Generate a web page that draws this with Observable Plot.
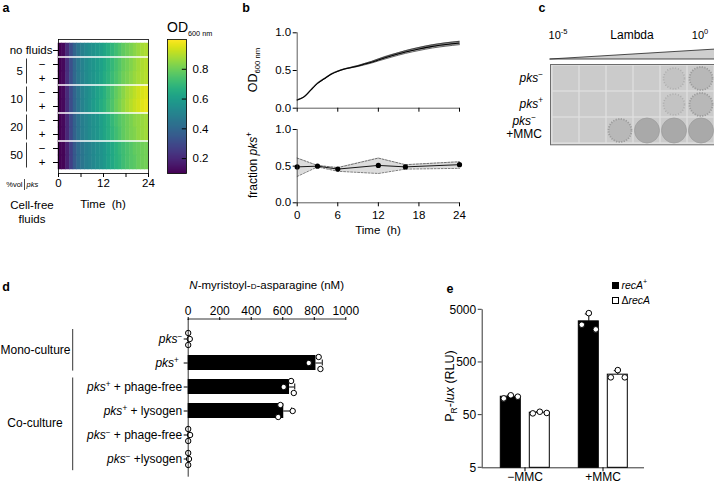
<!DOCTYPE html>
<html><head><meta charset="utf-8">
<script src="https://cdn.jsdelivr.net/npm/d3@7"></script>
<script src="https://cdn.jsdelivr.net/npm/@observablehq/plot@0.6"></script>
<style>
html,body{margin:0;padding:0;background:#fff;}
#fig{position:relative;width:714px;height:488px;overflow:hidden;background:#fff;font-family:"Liberation Sans",Arial,Helvetica,sans-serif;color:#000;}
.t{position:absolute;white-space:nowrap;line-height:1;}
.t sup,.t sub{font-size:68%;line-height:0;}
</style></head>
<body><div id="fig"></div>
<script>
// ================= DATA =================
// a: OD600 heatmap (hourly values, 0-24 h)
const heatRows = ["no fluids","5 −","5 +","10 −","10 +","20 −","20 +","50 −","50 +"];
const heatGroups = ["5","10","20","50"];
const heatHours = [0,1,2,3,4,5,6,7,8,9,10,11,12,13,14,15,16,17,18,19,20,21,22,23];
const odNoFluids = [0.10,0.12,0.21,0.31,0.39,0.45,0.49,0.52,0.54,0.56,0.58,0.60,0.63,0.66,0.69,0.72,0.75,0.78,0.80,0.82,0.84,0.86,0.88,0.89];
const od5Minus   = [0.10,0.12,0.22,0.32,0.40,0.46,0.50,0.53,0.55,0.57,0.59,0.61,0.64,0.67,0.70,0.73,0.76,0.79,0.81,0.83,0.85,0.87,0.89,0.90];
const od5Plus    = [0.10,0.12,0.22,0.32,0.40,0.46,0.50,0.53,0.55,0.57,0.59,0.62,0.65,0.68,0.71,0.74,0.77,0.80,0.82,0.84,0.86,0.88,0.89,0.90];
const od10Minus  = [0.10,0.12,0.21,0.31,0.39,0.45,0.50,0.53,0.55,0.58,0.61,0.64,0.67,0.71,0.74,0.78,0.81,0.84,0.87,0.89,0.91,0.93,0.95,0.96];
const od10Plus   = [0.10,0.12,0.21,0.31,0.39,0.45,0.50,0.53,0.56,0.59,0.62,0.65,0.68,0.72,0.75,0.79,0.82,0.85,0.88,0.90,0.92,0.94,0.96,0.97];
const od20Minus  = [0.10,0.12,0.20,0.30,0.38,0.44,0.48,0.51,0.53,0.55,0.57,0.60,0.63,0.66,0.70,0.73,0.76,0.78,0.80,0.82,0.84,0.85,0.86,0.87];
const od20Plus   = [0.10,0.12,0.20,0.30,0.38,0.44,0.48,0.51,0.53,0.55,0.57,0.60,0.63,0.66,0.69,0.72,0.75,0.78,0.80,0.82,0.83,0.85,0.86,0.87];
const od50Minus  = [0.10,0.11,0.18,0.27,0.35,0.41,0.45,0.48,0.50,0.52,0.54,0.56,0.58,0.61,0.64,0.67,0.70,0.72,0.74,0.76,0.78,0.79,0.80,0.81];
const od50Plus   = [0.10,0.11,0.18,0.27,0.35,0.41,0.45,0.48,0.50,0.52,0.54,0.56,0.58,0.61,0.64,0.67,0.69,0.72,0.74,0.76,0.77,0.79,0.80,0.81];
const heatOD = [odNoFluids,od5Minus,od5Plus,od10Minus,od10Plus,od20Minus,od20Plus,od50Minus,od50Plus];
const odDomain = [0.1, 1.0];
const cbarTicks = [0.2,0.4,0.6,0.8];

// b: growth curve and fraction pks+
const growthHours = [0,1,2,3,4,5,6,7,8,9,10,11,12,14,16,18,20,22,24];
const growthMean  = [0.11,0.15,0.24,0.33,0.39,0.45,0.49,0.52,0.54,0.56,0.585,0.61,0.64,0.695,0.745,0.785,0.82,0.845,0.865];
const growthSD    = [0.003,0.003,0.003,0.003,0.003,0.003,0.003,0.003,0.004,0.006,0.009,0.011,0.013,0.016,0.018,0.02,0.021,0.022,0.022];
const fracHours = [0,3,6,12,16,24];
const fracMean  = [0.49,0.50,0.46,0.51,0.49,0.52];
const fracLow   = [0.36,0.49,0.43,0.40,0.46,0.47];
const fracHigh  = [0.61,0.51,0.48,0.61,0.52,0.56];
const timeTicks = [0,6,12,18,24];

// c: lambda plaque assay (0 none, 1 sparse plaques, 2 turbid, 3 clear lysis)
const lambdaExp = [-5,-4,-3,-2,-1,0];
const plaqueRows = ["pks−","pks+","pks− +MMC"];
const lysisPksMinus    = [0,0,0,0,1,2];
const lysisPksPlus     = [0,0,0,0,1,2];
const lysisPksMinusMMC = [0,0,2,3,3,3];
const plaqueLysis = [lysisPksMinus, lysisPksPlus, lysisPksMinusMMC];
const wedgeExp = [-5, 0];
const wedgeRel = [0, 1];

// d: N-myristoyl-D-asparagine (nM)
const nmdaStrain  = ["−","+","+","+","−","−"];
const nmdaPartner = [""," "," + phage-free"," + lysogen"," + phage-free"," +lysogen"];
const nmdaRep1 = [0, 828, 653, 585, 0, 0];
const nmdaRep2 = [10, 765, 606, 663, 12, 5];
const nmdaRep3 = [0, 839, 670, 571, 0, 0];
const nmdaTicks = [0,200,400,600,800,1000];

// e: PR-lux (RLU)
const rluConditions = ["−MMC","+MMC"];
const rluStrains = ["recA+","ΔrecA"];
const rluCondition = ["−MMC","−MMC","+MMC","+MMC"];
const rluStrain    = ["recA+","ΔrecA","recA+","ΔrecA"];
const rluRep1 = [104, 54, 2606, 261];
const rluRep2 = [119, 58, 4320, 358];
const rluRep3 = [112, 55, 2123, 261];
const rluTicks = [5,50,500,5000];

// ================= HELPERS =================
const FONT = '"Liberation Sans", Arial, Helvetica, sans-serif';
const fig = document.getElementById("fig");
const st = (size) => ({fontFamily: FONT, fontSize: size + "px", background: "transparent", overflow: "visible", color: "#000", maxWidth: "none"});
function place(svg, left, top) {
  const d = document.createElement("div");
  d.style.cssText = `position:absolute;left:${left}px;top:${top}px;`;
  d.appendChild(svg); fig.appendChild(d); return svg;
}
function text(html, x, y, o = {}) {
  const {anchor = "middle", size = 11, rotate = 0, weight = 400, lh = 1, align = null} = o;
  const d = document.createElement("div");
  d.className = "t";
  d.innerHTML = html;
  const tx = anchor === "start" ? "0" : anchor === "end" ? "-100%" : "-50%";
  d.style.left = x + "px"; d.style.top = y + "px";
  d.style.fontSize = size + "px"; d.style.fontWeight = weight; d.style.lineHeight = lh;
  if (align) d.style.textAlign = align;
  d.style.transform = `translate(${tx},-50%)` + (rotate ? ` rotate(${rotate}deg)` : "");
  fig.appendChild(d); return d;
}
function line(svg, x1, y1, x2, y2, stroke = "#000", w = 0.8) {
  d3.select(svg).append("line").attr("x1", x1).attr("y1", y1).attr("x2", x2).attr("y2", y2)
    .attr("stroke", stroke).attr("stroke-width", w);
}

// ================= PANEL A =================
const heatData = [];
heatRows.forEach((row, i) => heatOD[i].forEach((od, j) => heatData.push({row, t0: heatHours[j], t1: heatHours[j] + 1, od})));
const odColor = {type: "linear", scheme: "viridis", domain: odDomain};
const heat = Plot.plot({
  width: 200, height: 230, marginLeft: 58, marginRight: 52, marginTop: 39, marginBottom: 57,
  style: st(11.5),
  x: {domain: [0, 24], label: null},
  y: {domain: heatRows, padding: 0, label: null},
  color: odColor,
  marks: [
    Plot.barX(heatData, {x1: "t0", x2: "t1", y: "row", fill: "od", stroke: "od", strokeWidth: 0.5}),
    Plot.axisX({ticks: timeTicks, tickFormat: d => d % 12 === 0 ? String(d) : "", tickSize: 4, tickPadding: 1.5, label: null}),
    Plot.axisY(["no fluids"], {tickSize: 5, tickPadding: 1, label: null}),
    Plot.axisY(heatRows.slice(1), {tickSize: 5, tickPadding: 8, tickFormat: d => d.split(" ")[1], label: null}),
    Plot.frame({stroke: "#000", strokeWidth: 0.8})
  ]
});
place(heat, 0, 0);
{
  const ys = heat.scale("y"), xs = heat.scale("x"), bw = ys.bandwidth;
  heatGroups.forEach(g => {
    const yb = ys.apply(g + " −");
    line(heat, xs.apply(0), yb, xs.apply(24), yb, "#fff", 1.6);
    const y1 = yb + 1.5, y2 = ys.apply(g + " +") + bw - 1.5;
    line(heat, 26.5, y1, 26.5, y2, "#000", 0.8);
    d3.select(heat).append("text").attr("x", 23).attr("y", (y1 + y2) / 2).attr("dy", "0.35em")
      .attr("text-anchor", "end").attr("font-size", 11.5).attr("fill", "#000").text(g);
  });
  line(heat, 24.5, 179, 24.5, 190, "#000", 0.7);
}
text("%vol", 22.5, 184.5, {anchor: "end", size: 7.5});
text("<i>pks</i>", 26.5, 184.5, {anchor: "start", size: 7.5});
text("Cell-free<br>fluids", 32, 212, {size: 11.5, lh: 1.25, align: "center"});
text("Time&nbsp;&nbsp;(h)", 103, 205, {size: 11.5});

const cbar = Plot.plot({
  width: 60, height: 230, marginLeft: 7, marginRight: 34, marginTop: 39, marginBottom: 57,
  style: st(11.5),
  x: {domain: [0, 1], axis: null},
  y: {domain: odDomain, label: null},
  color: odColor,
  marks: [
    Plot.raster({x1: 0, x2: 1, y1: odDomain[0], y2: odDomain[1], width: 1, height: 256, fill: (x, y) => y}),
    Plot.ruleY(cbarTicks, {x1: 0.78, x2: 1, stroke: "#000", strokeWidth: 1}),
    Plot.axisY(cbarTicks, {anchor: "right", tickSize: 0, tickPadding: 6, tickFormat: ".1f", label: null}),
    Plot.frame({stroke: "#000", strokeWidth: 0.8})
  ]
});
place(cbar, 160, 0);
text("OD<sub style='font-size:52%'>600 nm</sub>", 167, 27, {anchor: "start", size: 14});

// ================= PANEL B =================
const growth = growthHours.map((t, i) => ({t, m: growthMean[i], lo: growthMean[i] - growthSD[i], hi: growthMean[i] + growthSD[i]}));
const bTop = Plot.plot({
  width: 230, height: 120, marginLeft: 56.7, marginRight: 11, marginTop: 32.3, marginBottom: 12.3,
  style: st(11.5),
  x: {domain: [0, 24], label: null}, y: {domain: [0, 1], label: null},
  marks: [
    Plot.areaY(growth, {x: "t", y1: "lo", y2: "hi", fill: "#8f8f8f", curve: "monotone-x"}),
    Plot.line(growth, {x: "t", y: "lo", stroke: "#222", strokeWidth: 0.7, curve: "monotone-x"}),
    Plot.line(growth, {x: "t", y: "hi", stroke: "#222", strokeWidth: 0.7, curve: "monotone-x"}),
    Plot.line(growth, {x: "t", y: "m", stroke: "#000", strokeWidth: 1.1, curve: "monotone-x"}),
    Plot.ruleX([0], {stroke: "#333", strokeWidth: 0.8}),
    Plot.ruleY([0], {stroke: "#333", strokeWidth: 0.8}),
    Plot.axisY({ticks: [0, 0.5, 1], tickFormat: ".1f", tickSize: 4, tickPadding: 2, label: null}),
    Plot.axisX({ticks: timeTicks, tickFormat: () => "", tickSize: 4, label: null})
  ]
});
place(bTop, 240, 0);

const frac = fracHours.map((t, i) => ({t, m: fracMean[i], lo: fracLow[i], hi: fracHigh[i]}));
const bBot = Plot.plot({
  width: 230, height: 125, marginLeft: 56.7, marginRight: 11, marginTop: 9, marginBottom: 42.7,
  style: st(11.5),
  x: {domain: [0, 24], label: null}, y: {domain: [0, 1], label: null},
  marks: [
    Plot.areaY(frac, {x: "t", y1: "lo", y2: "hi", fill: "#dcdcdc"}),
    Plot.line(frac, {x: "t", y: "lo", stroke: "#444", strokeWidth: 0.7, strokeDasharray: "2,1.5"}),
    Plot.line(frac, {x: "t", y: "hi", stroke: "#444", strokeWidth: 0.7, strokeDasharray: "2,1.5"}),
    Plot.line(frac, {x: "t", y: "m", stroke: "#000", strokeWidth: 0.9}),
    Plot.dot(frac, {x: "t", y: "m", r: 2.6, fill: "#000"}),
    Plot.ruleX([0], {stroke: "#333", strokeWidth: 0.8}),
    Plot.ruleY([0], {stroke: "#333", strokeWidth: 0.8}),
    Plot.axisY({ticks: [0, 0.5, 1], tickFormat: ".1f", tickSize: 4, tickPadding: 2, label: null}),
    Plot.axisX({ticks: timeTicks, tickSize: 4, tickPadding: 4, label: null})
  ]
});
place(bBot, 240, 120);
text("OD<sub style='font-size:62%'>600 nm</sub>", 253, 70, {size: 12.5, rotate: -90});
text("fraction <i>pks</i><sup>+</sup>", 253, 165, {size: 12, rotate: -90});
text("Time&nbsp;&nbsp;(h)", 378, 231, {size: 11.5});

// ================= PANEL C =================
const plaqueCells = [];
plaqueRows.forEach((row, i) => plaqueLysis[i].forEach((lysis, j) => plaqueCells.push({row, exp: lambdaExp[j], lysis})));
const cPlot = Plot.plot({
  width: 176, height: 110, marginLeft: 10, marginRight: 0, marginTop: 24, marginBottom: 5.7,
  style: st(11),
  x: {domain: lambdaExp, padding: 0, axis: null},
  y: {domain: plaqueRows, padding: 0, axis: null},
  marks: [
    Plot.frame({fill: "#dedede"}),
    Plot.cell(plaqueCells, {x: "exp", y: "row", fill: "#cbcbcb", inset: 0.7}),
    Plot.dot(plaqueCells.filter(d => d.lysis === 1), {x: "exp", y: "row", r: 10.5, fill: "#c3c3c3", stroke: "#adadad", strokeWidth: 1.6, strokeDasharray: "1,1.8"}),
    Plot.dot(plaqueCells.filter(d => d.lysis === 2), {x: "exp", y: "row", r: 11.5, fill: "#b8b8b8", stroke: "#9c9c9c", strokeWidth: 1.8, strokeDasharray: "1.2,1.4"}),
    Plot.dot(plaqueCells.filter(d => d.lysis === 3), {x: "exp", y: "row", r: 12.5, fill: "#a9a9a9", stroke: "#9d9d9d", strokeWidth: 0.8}),
    Plot.frame({stroke: "#6d6d6d", strokeWidth: 1})
  ]
});
place(cPlot, 540, 40);
const wedgeData = wedgeExp.map((e, i) => ({exp: e, rel: wedgeRel[i]}));
const wedge = Plot.plot({
  width: 176, height: 16, marginLeft: 10, marginRight: 0, marginTop: 4, marginBottom: 2,
  style: st(11),
  x: {domain: [-5, 0], axis: null}, y: {domain: [0, 1], axis: null},
  marks: [Plot.areaY(wedgeData, {x: "exp", y: "rel", fill: "#cfcfcf", stroke: "#222", strokeWidth: 0.8})]
});
place(wedge, 540, 45);
text("10<sup>-5</sup>", 558, 35, {size: 11});
text("Lambda", 632, 35, {size: 12});
text("10<sup>0</sup>", 700, 35, {size: 11});
{
  const ys = cPlot.scale("y"), bw = ys.bandwidth;
  const yc = r => 40 + ys.apply(r) + bw / 2;
  text("<i>pks</i><sup>−</sup>", 543, yc("pks−"), {anchor: "end", size: 12});
  text("<i>pks</i><sup>+</sup>", 543, yc("pks+"), {anchor: "end", size: 12});
  text("<i>pks</i><sup>−</sup><br>+MMC", 542, yc("pks− +MMC") - 2, {anchor: "end", size: 12, lh: 1.05, align: "center"});
}

// ================= PANEL D =================
const nmdaKeys = nmdaStrain.map((s, i) => "pks" + s + nmdaPartner[i]);
const nmda = nmdaKeys.map((k, i) => {
  const reps = [nmdaRep1[i], nmdaRep2[i], nmdaRep3[i]];
  return {k, reps, mean: d3.mean(reps), sd: d3.deviation(reps)};
});
const repDy = [-6, 0, 6];
const dPlot = Plot.plot({
  width: 360, height: 238, marginLeft: 187.7, marginRight: 14.7, marginTop: 69, marginBottom: 11.3,
  style: st(12),
  x: {domain: [0, 1000], label: null},
  y: {domain: nmdaKeys, paddingInner: 0.36, paddingOuter: 0.18, insetTop: 4.5, insetBottom: 3.8, label: null},
  marks: [
    Plot.barX(nmda, {x: "mean", y: "k", fill: "#000"}),
    Plot.ruleY(nmda, {y: "k", x1: "mean", x2: d => d.mean + d.sd, stroke: "#000", strokeWidth: 1}),
    Plot.tickX(nmda, {x: d => d.mean + d.sd, y: "k", stroke: "#000", strokeWidth: 1, insetTop: 4.5, insetBottom: 4.5}),
    ...[0, 1, 2].map(j => Plot.dot(nmda, {x: d => d.reps[j], y: "k", dy: repDy[j], r: 2.7, fill: "#fff", stroke: "#000", strokeWidth: 1})),
    Plot.ruleX([0], {stroke: "#000", strokeWidth: 0.8}),
    Plot.axisX({anchor: "top", ticks: nmdaTicks, tickFormat: d => String(d), tickSize: 3, tickPadding: 2, label: null}),
    Plot.axisY({tickSize: 4, tickPadding: 2, label: null})
  ]
});
place(dPlot, 0, 250);
line(dPlot, 187.7, 69, 345.3, 69, "#000", 0.8);
d3.select(dPlot).selectAll('g[aria-label="y-axis tick label"] text').each(function () {
  const s = this.textContent;
  const sign = s.slice(3, 4), rest = s.slice(4).replace(/ /g, "\u00a0");
  const t = d3.select(this); t.text(null);
  t.append("tspan").attr("font-style", "italic").text("pks");
  t.append("tspan").attr("baseline-shift", "super").attr("font-size", "68%").text(sign);
  if (rest) t.append("tspan").text(rest);
});
{
  const ys = dPlot.scale("y"), step = ys.step;
  const m1 = ys.apply(nmdaKeys[0]) - 2, m2 = ys.apply(nmdaKeys[1]) + step * 0.65;
  const c1 = ys.apply(nmdaKeys[2]) - 1.5, c2 = ys.apply(nmdaKeys[5]) + step * 0.8;
  line(dPlot, 72.7, m1, 72.7, m2, "#000", 0.8);
  line(dPlot, 72.7, c1, 72.7, c2, "#000", 0.8);
  text("Mono-culture", 70.5, 250 + (m1 + m2) / 2, {anchor: "end", size: 12});
  text("Co-culture", 35, 250 + (ys.apply(nmdaKeys[2]) + ys.apply(nmdaKeys[5]) + ys.bandwidth) / 2, {size: 12});
}
text("<i>N</i>-myristoyl-<span style='font-variant:small-caps'>d</span>-asparagine (nM)", 266.7, 286, {size: 11.5});

// ================= PANEL E =================
const rlu = rluCondition.map((c, i) => {
  const reps = [rluRep1[i], rluRep2[i], rluRep3[i]];
  return {cond: c, strain: rluStrain[i], reps, mean: d3.mean(reps), sd: d3.deviation(reps)};
});
const repDx = [-7, 0, 7];
const eLayout = {width: 274, height: 228, marginLeft: 41.7, marginRight: 70, marginTop: 49.3, marginBottom: 20.7};
const eY = {type: "log", domain: [5, 5000], label: null};
const ePlot = Plot.plot({
  ...eLayout,
  style: st(12),
  fx: {domain: rluConditions, paddingInner: 0.25, paddingOuter: 0.1646, label: null},
  x: {domain: rluStrains, paddingInner: 0.324, paddingOuter: 0.15, axis: null},
  y: {...eY, axis: null},
  color: {domain: rluStrains, range: ["#000", "#fff"]},
  marks: [
    Plot.barY(rlu, {fx: "cond", x: "strain", y1: 5, y2: "mean", fill: "strain", stroke: "#000", strokeWidth: 1}),
    Plot.ruleX(rlu, {fx: "cond", x: "strain", y1: "mean", y2: d => d.mean + d.sd, stroke: "#000", strokeWidth: 1}),
    Plot.tickY(rlu, {fx: "cond", x: "strain", y: d => d.mean + d.sd, stroke: "#000", strokeWidth: 1, insetLeft: 6.5, insetRight: 6.5}),
    ...[0, 1, 2].map(j => Plot.dot(rlu, {fx: "cond", x: "strain", y: d => d.reps[j], dx: repDx[j], r: 2.8, fill: "#fff", stroke: "#000", strokeWidth: 1})),
    Plot.axisFx({anchor: "bottom", tickSize: 4, tickPadding: 1, label: null})
  ]
});
place(ePlot, 440, 260);
const eAxis = Plot.plot({
  ...eLayout,
  style: st(12),
  x: {domain: [0, 1], axis: null},
  y: {...eY, axis: null},
  marks: [
    Plot.ruleX([0], {stroke: "#000", strokeWidth: 0.8}),
    Plot.ruleY([5], {stroke: "#000", strokeWidth: 0.8}),
    Plot.text(rluTicks, {y: d => d, text: d => String(d), frameAnchor: "left", textAnchor: "end", dx: -6, fill: "#000"})
  ]
});
place(eAxis, 440, 260);
{
  const ys = eAxis.scale("y");
  rluTicks.forEach(v => line(eAxis, 37.7, ys.apply(v), 41.7, ys.apply(v), "#000", 0.8));
}
text("P<sub>R</sub>-<i>lux</i> (RLU)", 450, 386, {size: 12.5, rotate: -90});
{
  const sw = (x, y, fill) => { const d = document.createElement("div"); d.style.cssText = `position:absolute;left:${x}px;top:${y}px;width:5px;height:5px;background:${fill};border:1px solid #000;`; fig.appendChild(d); };
  sw(612, 281.5, "#000"); sw(612, 296.5, "#fff");
  text("<i>recA</i><sup>+</sup>", 621.5, 284.5, {anchor: "start", size: 10.5});
  text("Δ<i>recA</i>", 621.5, 299.5, {anchor: "start", size: 10.5});
}

// ================= PANEL LETTERS =================
text("a", 6, 8, {size: 12.5, weight: 700});
text("b", 246, 8, {size: 12.5, weight: 700});
text("c", 542, 8, {size: 12.5, weight: 700});
text("d", 6, 287, {size: 12.5, weight: 700});
text("e", 450, 289, {size: 12.5, weight: 700});
</script>
</body></html>
